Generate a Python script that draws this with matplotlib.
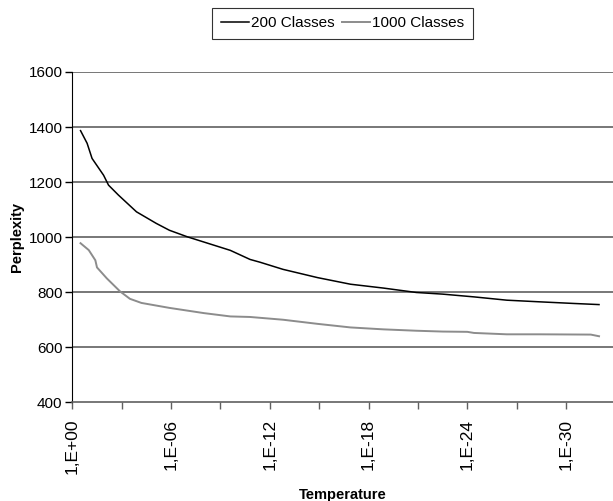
import numpy as np
import matplotlib

matplotlib.use("Agg")
import matplotlib.pyplot as plt

plt.rcParams["font.family"] = ["Liberation Sans", "DejaVu Sans"]

# x values are decades below 1 (temperature = 10**-x)
x_200 = [0.5, 0.9, 1.2, 1.9, 2.2, 2.8, 3.9, 5.1, 5.9, 7.0, 9.6, 10.8, 11.4, 12.8,
         14.9, 16.9, 18.9, 20.9, 22.5, 24.4, 26.4, 28.4, 30.5, 32.0]
perp_200 = [1387, 1341, 1286, 1225, 1189, 1153, 1092, 1050, 1025, 1001, 952, 919, 909, 883,
            853, 829, 815, 799, 793, 783, 771, 765, 759, 755]

x_1000 = [0.5, 1.0, 1.4, 1.5, 2.1, 2.9, 3.5, 4.2, 5.9, 8.0, 9.6, 10.8, 12.8, 14.9,
          16.9, 18.9, 20.9, 22.5, 24.0, 24.4, 26.4, 28.4, 31.5, 32.0]
perp_1000 = [978, 953, 916, 890, 850, 803, 776, 761, 743, 724, 712, 710, 700, 685,
             672, 665, 660, 657, 656, 652, 647, 647, 646, 640]

tick_exp = [0, 6, 12, 18, 24, 30]
tick_labels = ["1,E+00", "1,E-06", "1,E-12", "1,E-18", "1,E-24", "1,E-30"]
minor_exp = [3, 9, 15, 21, 27]
y_ticks = [400, 600, 800, 1000, 1200, 1400, 1600]

fig = plt.figure(figsize=(6.13, 5.01), dpi=100)
ax = fig.add_axes([72.3 / 613, 1 - 402.3 / 501, (612.7 - 72.3) / 613, (402.3 - 72) / 501])

ax.plot(x_200, perp_200, color="black", lw=1.1, label="200 Classes")
ax.plot(x_1000, perp_1000, color="#8c8c8c", lw=1.4, label="1000 Classes")

ax.set_xlim(0, (612.7 - 72.3) / 16.46)
ax.set_ylim(400, 1600)
ax.set_yticks(y_ticks)
ax.set_xticks(tick_exp)
ax.set_xticklabels(tick_labels, rotation=90, fontsize=12.5)
ax.set_xticks(minor_exp, minor=True)
ax.tick_params(axis="y", labelsize=11, length=5, width=1, pad=2)
ax.tick_params(axis="x", which="both", length=5, width=1, color="#606060", pad=7)

for v in y_ticks[1:]:
    ax.axhline(v, color="#606060", lw=1.2, zorder=0)
ax.spines["top"].set_visible(False)
ax.spines["right"].set_visible(False)
ax.spines["left"].set_color("black")
ax.spines["bottom"].set_color("#606060")
ax.spines["bottom"].set_linewidth(1.2)

ax.set_xlabel("Temperature", fontsize=10.5, fontweight="bold", labelpad=10)
ax.set_ylabel("Perplexity", fontsize=10.5, fontweight="bold", labelpad=3)

leg = fig.legend(loc="center", bbox_to_anchor=(342.5 / 613, 1 - 23.3 / 501), ncol=2,
                 fontsize=11, frameon=True, fancybox=False, handlelength=1.85,
                 handletextpad=0.15, columnspacing=0.45, borderpad=0.55,
                 borderaxespad=0)
leg.get_frame().set_edgecolor("black")
leg.get_frame().set_linewidth(0.8)

fig.savefig("out.png", dpi=100)
